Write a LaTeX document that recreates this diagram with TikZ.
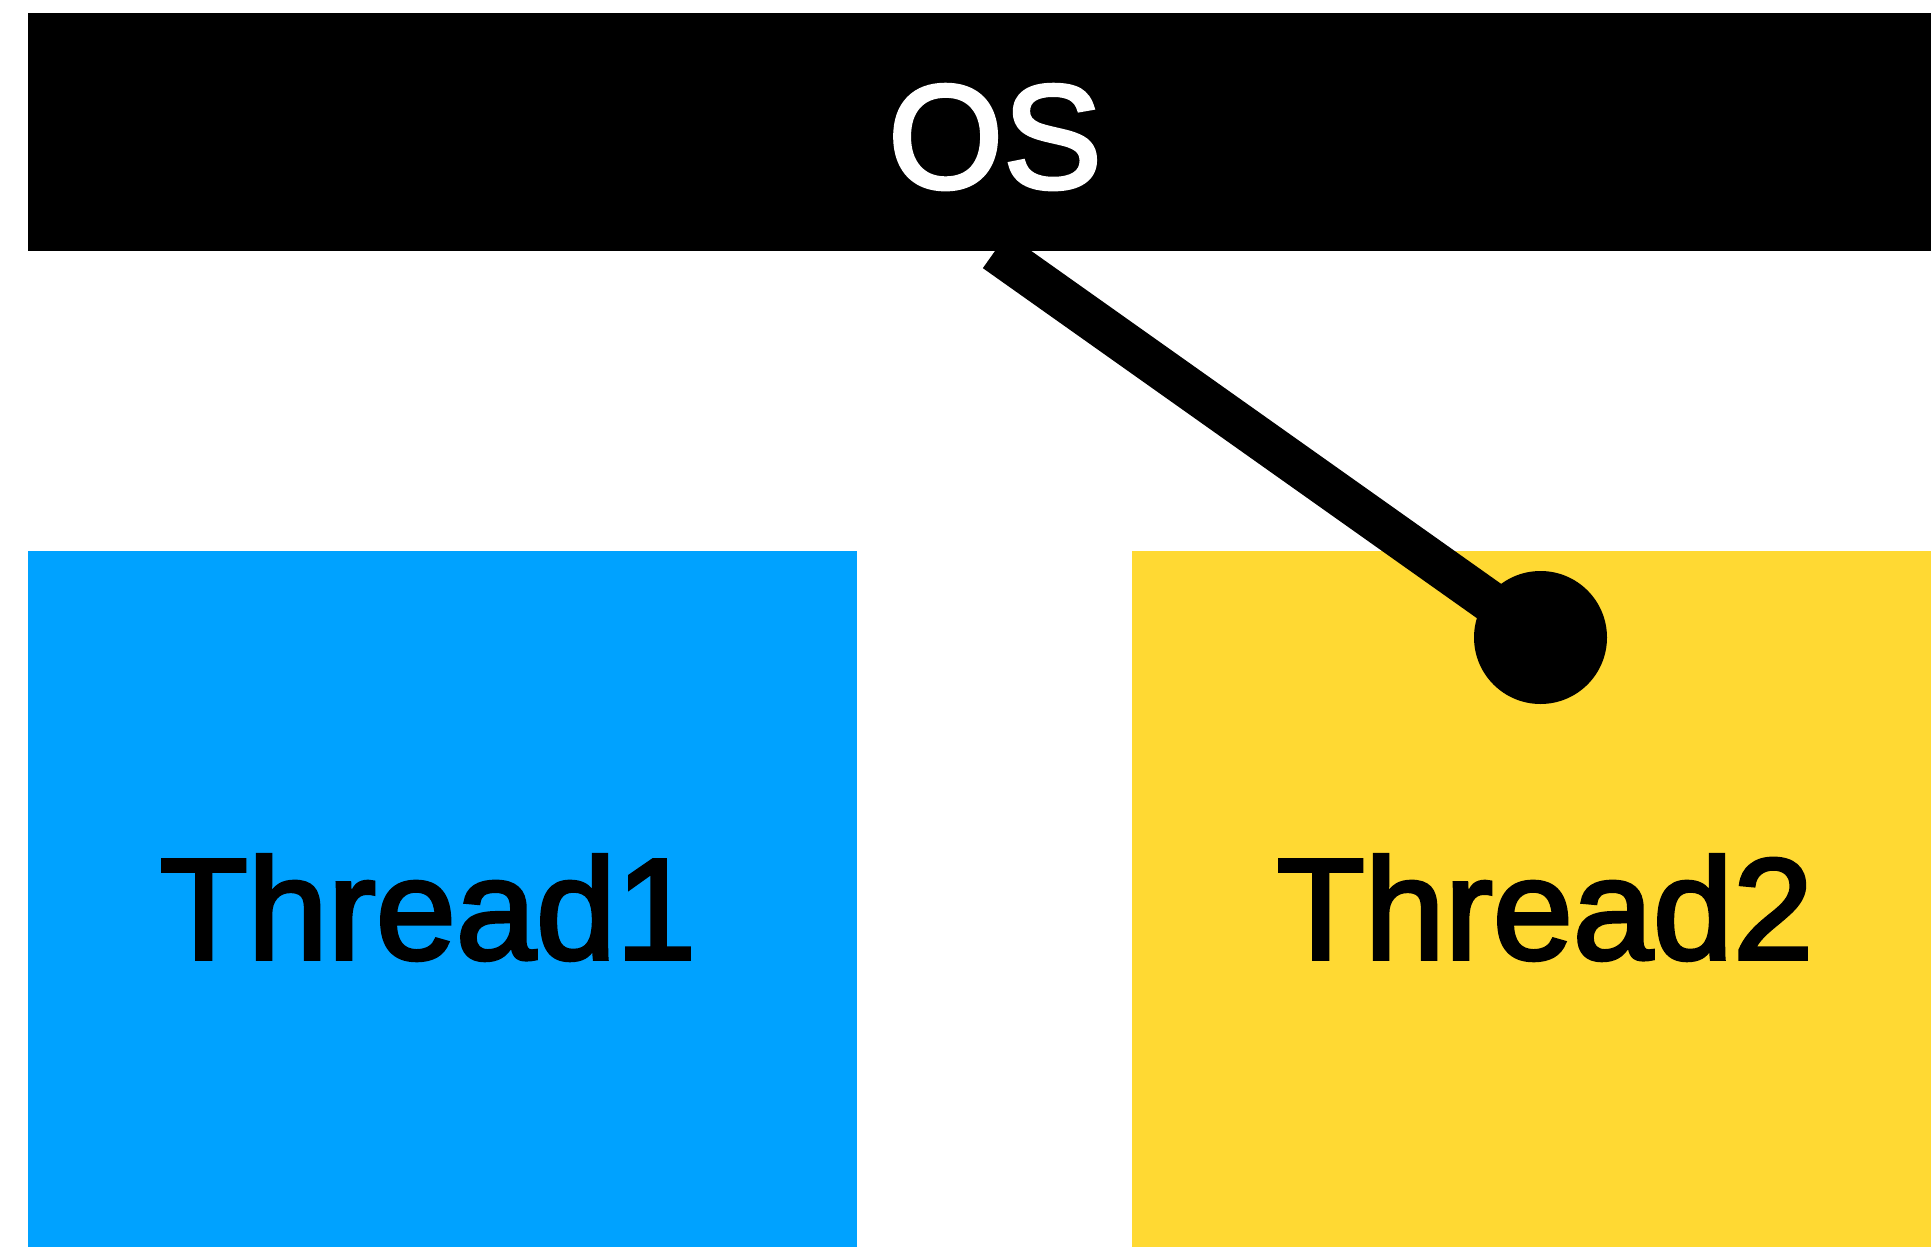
\documentclass[tikz,border=0pt]{standalone}
\usepackage{fontspec}
\newfontfamily\labelfont{Liberation Sans}[FakeBold=2.6]
\definecolor{threadblue}{RGB}{0,162,255}
\definecolor{threadyellow}{RGB}{255,217,51}
\begin{document}
\begin{tikzpicture}[x=1pt,y=-1pt,
  block/.style={rectangle,inner sep=0pt,outer sep=0pt,anchor=north west},
  biglabel/.style={inner sep=0pt,anchor=base,font=\labelfont\fontsize{144}{150}\selectfont},
  link/.style={line width=42pt,line cap=butt}]
\useasboundingbox (0,0) rectangle (1931,1247);
% operating system bar
\node[block,fill=black,minimum width=1934pt,minimum height=238pt] (os) at (28,13) {};
\node[biglabel,text=white,font=\labelfont\fontsize{148}{150}\selectfont] (oslabel) at (995,188) {OS};
% thread boxes
\node[block,fill=threadblue,minimum width=829pt,minimum height=720pt] (t1) at (28,551) {};
\node[block,fill=threadyellow,minimum width=830pt,minimum height=720pt] (t2) at (1132,551) {};
\node[biglabel] (t1label) at (428,959) {Thread1};
\node[biglabel] (t2label) at (1545,959) {Thread2};
% scheduler pointer
\node[circle,fill=black,inner sep=0pt,minimum size=133pt] (dot) at (1540.5,637.5) {};
\draw[link] (os.south) -- (dot.center);
\end{tikzpicture}
\end{document}
